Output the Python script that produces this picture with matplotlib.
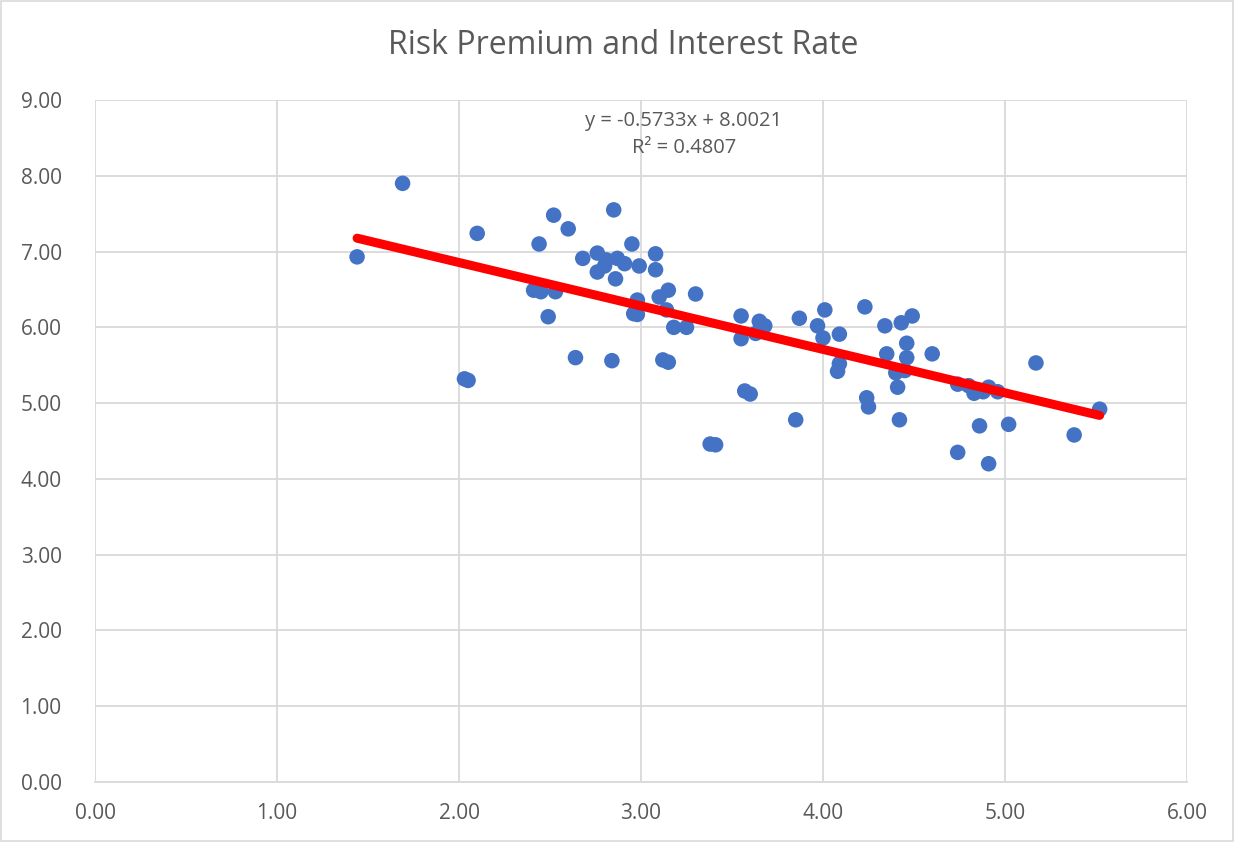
'''
    Scatter of risk premium against interest rate with a linear trend line
'''
from matplotlib import pyplot as plt
import numpy as np

# Interest rate (x) and risk premium (y)
interest_rate = [1.44, 1.69, 2.03, 2.05, 2.10, 2.41, 2.45, 2.44, 2.49, 2.52,
                 2.53, 2.60, 2.64, 2.68, 2.76, 2.76, 2.80, 2.81, 2.85, 2.84,
                 2.86, 2.87, 2.91, 2.95, 2.96, 2.98, 2.99, 3.08, 3.08, 3.10,
                 3.12, 3.14, 3.15, 3.15, 3.18, 3.25, 3.30, 3.38, 3.41, 3.55,
                 3.55, 3.57, 3.60, 3.63, 3.65, 3.68, 3.85, 3.87, 3.97, 4.00,
                 4.01, 4.08, 4.09, 4.09, 4.23, 4.24, 4.25, 4.34, 4.35, 4.40,
                 4.41, 4.42, 4.43, 4.46, 4.46, 4.49, 4.60, 4.74, 4.74, 4.80,
                 4.83, 4.86, 4.88, 4.91, 4.91, 4.96, 5.02, 5.17, 5.38, 5.52,
                 4.45, 2.98]
risk_premium  = [6.93, 7.90, 5.32, 5.30, 7.24, 6.49, 6.47, 7.10, 6.14, 7.48,
                 6.47, 7.30, 5.60, 6.91, 6.98, 6.73, 6.81, 6.89, 7.55, 5.56,
                 6.64, 6.91, 6.84, 7.10, 6.18, 6.36, 6.81, 6.97, 6.76, 6.40,
                 5.57, 6.23, 6.49, 5.54, 6.00, 6.00, 6.44, 4.46, 4.45, 6.15,
                 5.85, 5.16, 5.12, 5.92, 6.08, 6.02, 4.78, 6.12, 6.02, 5.86,
                 6.23, 5.42, 5.91, 5.52, 6.27, 5.07, 4.95, 6.02, 5.65, 5.40,
                 5.21, 4.78, 6.06, 5.79, 5.60, 6.15, 5.65, 5.25, 4.35, 5.23,
                 5.13, 4.70, 5.15, 5.21, 4.20, 5.15, 4.72, 5.53, 4.58, 4.92,
                 5.43, 6.17]

trend_slope     = -0.5733
trend_intercept = 8.0021
trend_r2        = 0.4807

x_ticks = [0, 1, 2, 3, 4, 5, 6]
y_ticks = [0, 1, 2, 3, 4, 5, 6, 7, 8, 9]

FONT = ['Open Sans', 'DejaVu Sans']
TXT  = '#595959'
GRID = '#d9d9d9'


def main():
    ''' The main function '''
    fig = plt.figure(figsize=(12.34, 8.42), dpi=100)
    ax = fig.add_axes([95/1234, 1 - 782/842, (1187-95)/1234, (782-100)/842])

    x = np.array(interest_rate)
    y = np.array(risk_premium)

    ax.scatter(x, y, s=125, c='#4472C4', edgecolors='none', zorder=3)

    # Linear trend line over the data range
    xt = np.array([x.min(), x.max()])
    ax.plot(xt, trend_slope*xt + trend_intercept, c='#ff0000', lw=6.5,
            solid_capstyle='round', zorder=4)

    ax.text(3.236, 8.72, 'y = {:.4f}x + {:.4f}'.format(trend_slope, trend_intercept),
            ha='center', va='center', fontsize=14.5, color=TXT, family=FONT)
    ax.text(3.236, 8.37, 'R² = {:.4f}'.format(trend_r2),
            ha='center', va='center', fontsize=14.5, color=TXT, family=FONT)

    ax.set_xlim(0, 6)
    ax.set_ylim(0, 9)
    ax.set_xticks(x_ticks)
    ax.set_yticks(y_ticks)
    ax.set_xticklabels(['{:.2f}'.format(v) for v in x_ticks])
    ax.set_yticklabels(['{:.2f}'.format(v) for v in y_ticks])
    for lab in ax.get_xticklabels() + ax.get_yticklabels():
        lab.set_family(FONT)
        lab.set_fontsize(15)
        lab.set_color(TXT)
    ax.tick_params(axis='x', length=0, pad=15)
    ax.tick_params(axis='y', length=0, pad=24)

    ax.grid(True, color=GRID, lw=1.3)
    ax.set_axisbelow(True)
    for side in ['top', 'right', 'left']:
        ax.spines[side].set_visible(False)
    ax.spines['bottom'].set_color(GRID)
    ax.spines['bottom'].set_linewidth(1.3)

    fig.text(623/1234, 1 - 46/842, 'Risk Premium and Interest Rate',
             ha='center', va='center', fontsize=23, color=TXT, family=FONT)

    # Chart frame
    fig.patches.append(plt.Rectangle((0.001, 0.001), 0.998, 0.998, transform=fig.transFigure,
                                     fill=False, ec=GRID, lw=1.2))

    fig.savefig('out.png', dpi=100)
    plt.close(fig)


if __name__ == '__main__': main()
